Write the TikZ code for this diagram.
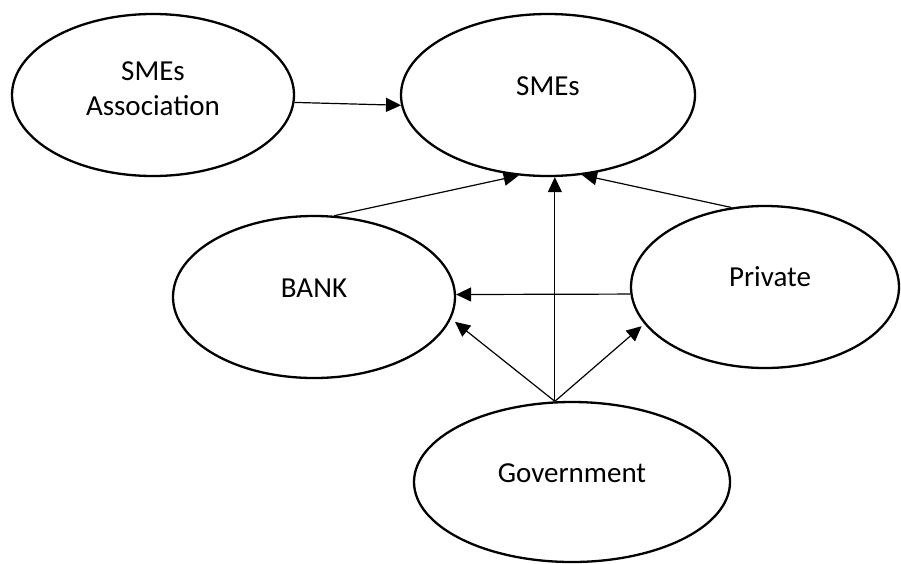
\documentclass[tikz,border=0pt]{standalone}
\usepackage{fontspec}
\setmainfont{Carlito}
\usetikzlibrary{shapes.geometric,arrows.meta}
\begin{document}
\begin{tikzpicture}[x=1pt,y=-1pt,
  ell/.style={draw, ellipse, line width=2.3pt, inner sep=0pt, minimum height=162pt},
  txt/.style={font=\fontsize{29}{35}\selectfont, align=center, inner sep=0pt},
  arr/.style={-{Triangle[length=15pt,width=14pt]}, line width=1.2pt}]
\useasboundingbox (0,0) rectangle (901,563);
% ellipses
\node[ell, minimum width=282pt] (assoc) at (153,95) {};
\node[ell, minimum width=294pt] (smes) at (548,95) {};
\node[ell, minimum width=282pt] (bank) at (314,297) {};
\node[ell, minimum width=268pt] (priv) at (765,287) {};
\node[ell, minimum width=316pt, minimum height=160pt] (gov) at (572,482) {};
% texts
\node[txt] (assoc-t) at ([yshift=6pt]assoc.center) {SMEs\\Association};
\node[txt] (smes-t) at ([yshift=9pt]smes.center) {SMEs};
\node[txt] (bank-t) at ([yshift=9pt]bank.center) {BANK};
\node[txt] (priv-t) at ([xshift=5pt,yshift=10pt]priv.center) {Private};
\node[txt] (gov-t) at ([yshift=9pt]gov.center) {Government};
% connectors
\coordinate (gtop) at (gov.102.07);
\draw[arr] (assoc.-3.26) -- (smes.-176.9);
\draw[arr] (bank.76.8) -- (smes.-110.9);
\draw[arr] (priv.113) -- (smes.-67.4);
\draw[arr] (gtop) -- (gtop |- smes.south);
\draw[arr] (priv.-177.5) -- (bank.1.6);
\draw[arr, shorten >=5pt] (gtop) -- (bank.-9.2);
\draw[arr, shorten >=3.5pt] (gtop) -- (priv.-163);
\end{tikzpicture}
\end{document}
